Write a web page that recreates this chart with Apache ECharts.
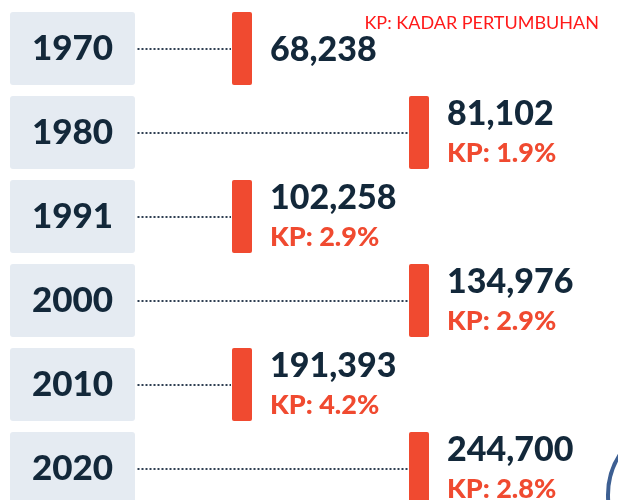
<!DOCTYPE html>
<html>
<head>
<meta charset="utf-8">
<script src="https://cdn.jsdelivr.net/npm/echarts@6/dist/echarts.min.js"></script>
<style>
  html, body { margin: 0; padding: 0; background: #fff; }
  #chart { width: 618px; height: 500px; }
</style>
</head>
<body>
<div id="chart"></div>
<script>
// penduduk ikut tahun banci
const years = ['1970', '1980', '1991', '2000', '2010', '2020']
const population = [68238, 81102, 102258, 134976, 191393, 244700]
// KP: kadar pertumbuhan (%)
const growth = [null, 1.9, 2.9, 2.9, 4.2, 2.8]
const columns = ['kiri', 'kanan']

const navy = '#13283a'
const red = '#f04a30'
const font = 'Lato, "Noto Sans", sans-serif'

const chart = echarts.init(document.getElementById('chart'))

const option = {
  animation: false,
  title: {
    text: 'KP: KADAR PERTUMBUHAN',
    right: 14,
    top: 9,
    textStyle: {
      fontFamily: font,
      fontSize: 18,
      fontWeight: 'normal',
      color: '#ff1a1a',
    },
  },
  grid: {
    left: 153.5,
    top: 6.5,
    width: 354,
    height: 504,
    outerBoundsMode: 'none',
  },
  xAxis: {
    type: 'category',
    data: columns,
    show: false,
  },
  yAxis: {
    type: 'category',
    data: years,
    inverse: true,
    axisLine: { show: false },
    axisTick: { show: false },
    splitLine: { show: false },
    axisLabel: {
      margin: 18.5,
      formatter: v => '{box|' + v + '}',
      rich: {
        box: {
          width: 125,
          height: 73,
          align: 'center',
          verticalAlign: 'middle',
          backgroundColor: '#e5ebf2',
          borderRadius: 3,
          fontFamily: font,
          fontSize: 35,
          fontWeight: 900,
          color: navy,
        },
      },
    },
  },
  series: [
    {
      type: 'custom',
      clip: false,
      data: years.map((y, i) => [columns[i % 2], y, population[i], growth[i]]),
      renderItem: (params, api) => {
        const pt = api.coord([api.value(0), api.value(1)])
        const cx = pt[0]
        const cy = pt[1]
        const lineY = Math.round(cy)
        const startX = params.coordSys.x - 16
        const kp = growth[params.dataIndex]
        const children = [
          {
            type: 'line',
            shape: { x1: startX, y1: lineY, x2: cx - 11, y2: lineY },
            style: { stroke: '#2f3f52', lineWidth: 2, lineDash: [2, 2] },
          },
          {
            type: 'rect',
            shape: { x: cx - 10, y: cy - 36.5, width: 20, height: 73, r: 2 },
            style: { fill: red },
          },
          {
            type: 'text',
            style: {
              x: cx + 28,
              y: kp == null ? cy + 2 : cy - 18,
              text: population[params.dataIndex].toLocaleString('en-US'),
              font: '900 34px ' + font,
              fill: navy,
              verticalAlign: 'middle',
            },
          },
        ]
        if (kp != null) {
          children.push({
            type: 'text',
            style: {
              x: cx + 28,
              y: cy + 21,
              text: 'KP: ' + kp.toFixed(1) + '%',
              font: '900 27px ' + font,
              fill: red,
              verticalAlign: 'middle',
            },
          })
        }
        return { type: 'group', children }
      },
    },
  ],
  graphic: [
    {
      type: 'circle',
      shape: { cx: 682, cy: 495, r: 74 },
      style: { fill: 'none', stroke: '#3d5f92', lineWidth: 4 },
    },
  ],
}

chart.setOption(option)
</script>
</body>
</html>
